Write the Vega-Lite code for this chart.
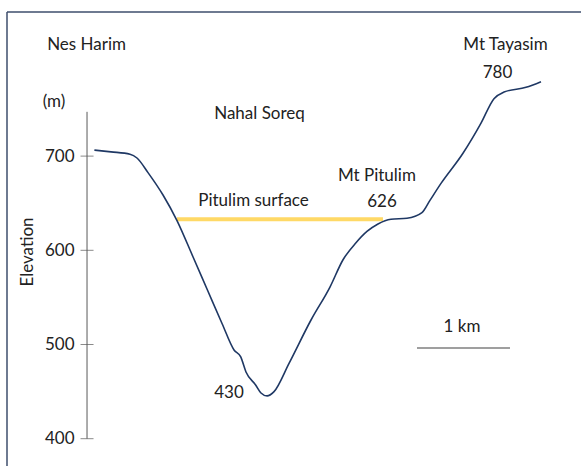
{
  "$schema": "https://vega.github.io/schema/vega-lite/v6.json",
  "width": 574,
  "height": 454,
  "autosize": {"type": "none"},
  "padding": {"left": 7, "top": 12, "right": 0, "bottom": 0},
  "background": "white",
  "config": {
    "view": {"stroke": null},
    "text": {"font": "Lato", "fontSize": 17, "color": "#222222"}
  },
  "datasets": {
    "frame": [
      {"x": -0.87, "y": 371, "x2": -0.87, "y2": 853},
      {"x": -0.87, "y": 853, "x2": 5.37, "y2": 853}
    ],
    "profile": [
      {"x": 0.080, "y": 706.4}, {"x": 0.261, "y": 704.5}, {"x": 0.467, "y": 702}, {"x": 0.543, "y": 698},
      {"x": 0.663, "y": 682.5}, {"x": 0.826, "y": 658.7}, {"x": 0.978, "y": 631.6}, {"x": 1.148, "y": 594},
      {"x": 1.309, "y": 557.9}, {"x": 1.470, "y": 521.8}, {"x": 1.598, "y": 494.2}, {"x": 1.671, "y": 486.8},
      {"x": 1.728, "y": 470.8}, {"x": 1.833, "y": 457}, {"x": 1.891, "y": 448.5}, {"x": 1.957, "y": 445.4},
      {"x": 2.033, "y": 450}, {"x": 2.196, "y": 480}, {"x": 2.435, "y": 526}, {"x": 2.641, "y": 561},
      {"x": 2.783, "y": 590}, {"x": 2.924, "y": 608}, {"x": 3.043, "y": 620}, {"x": 3.163, "y": 628},
      {"x": 3.304, "y": 633}, {"x": 3.478, "y": 634}, {"x": 3.641, "y": 640}, {"x": 3.728, "y": 653},
      {"x": 3.848, "y": 671}, {"x": 4.087, "y": 703}, {"x": 4.283, "y": 735}, {"x": 4.424, "y": 761},
      {"x": 4.533, "y": 768}, {"x": 4.772, "y": 773}, {"x": 4.935, "y": 779}
    ],
    "surface": [{"x": 0.978, "y": 633}, {"x": 3.217, "y": 633}],
    "scalebar": [{"x": 3.587, "y": 496.3}, {"x": 4.598, "y": 496.3}],
    "axisline": [{"x": 0, "y": 747, "y2": 400}],
    "ticks": [{"x": 0, "y": 700}, {"x": 0, "y": 600}, {"x": 0, "y": 500}, {"x": 0, "y": 400}],
    "labels": [
      {"x": -0.005, "y": 812.7, "label": "Nes Harim"},
      {"x": -0.359, "y": 752, "label": "(m)"},
      {"x": 1.875, "y": 739.4, "label": "Nahal Soreq"},
      {"x": 4.549, "y": 812.7, "label": "Mt Tayasim"},
      {"x": 4.462, "y": 783, "label": "780"},
      {"x": 3.152, "y": 673.6, "label": "Mt Pitulim"},
      {"x": 3.207, "y": 646, "label": "626"},
      {"x": 1.81, "y": 647, "label": "Pitulim surface"},
      {"x": 1.543, "y": 443.2, "label": "430"},
      {"x": 4.076, "y": 513.3, "label": "1 km"}
    ],
    "ytitle": [{"x": -0.641, "y": 598.2, "label": "Elevation"}]
  },
  "encoding": {
    "x": {"field": "x", "type": "quantitative", "scale": {"domain": [-0.87, 5.37], "nice": false, "zero": false}, "axis": null},
    "y": {
      "field": "y", "type": "quantitative",
      "scale": {"domain": [371, 853], "nice": false, "zero": false},
      "axis": {
        "orient": "left", "offset": -80, "domain": false, "ticks": false, "grid": false,
        "values": [400, 500, 600, 700], "labelPadding": 13, "labelFont": "Lato",
        "labelFontSize": 17, "labelColor": "#222222", "title": null
      }
    }
  },
  "layer": [
    {
      "data": {"name": "frame"},
      "mark": {"type": "rule", "color": "#3E4E6C", "strokeWidth": 1.5},
      "encoding": {"x2": {"field": "x2"}, "y2": {"field": "y2"}}
    },
    {
      "data": {"name": "axisline"},
      "mark": {"type": "rule", "color": "#595959", "strokeWidth": 1},
      "encoding": {"y2": {"field": "y2"}}
    },
    {
      "data": {"name": "ticks"},
      "mark": {"type": "tick", "orient": "horizontal", "size": 13, "thickness": 1, "color": "#595959"},
      "encoding": {}
    },
    {
      "data": {"name": "surface"},
      "mark": {"type": "line", "color": "#FFD966", "strokeWidth": 4},
      "encoding": {}
    },
    {
      "data": {"name": "scalebar"},
      "mark": {"type": "line", "color": "#7F7F7F", "strokeWidth": 1.5},
      "encoding": {}
    },
    {
      "data": {"name": "profile"},
      "mark": {"type": "line", "color": "#1F3864", "strokeWidth": 1.6, "interpolate": "monotone"},
      "encoding": {}
    },
    {
      "data": {"name": "labels"},
      "mark": {"type": "text", "align": "center", "baseline": "alphabetic"},
      "encoding": {"text": {"field": "label"}}
    },
    {
      "data": {"name": "ytitle"},
      "mark": {"type": "text", "align": "center", "baseline": "middle", "angle": 270, "fontSize": 17},
      "encoding": {"text": {"field": "label"}}
    }
  ]
}
